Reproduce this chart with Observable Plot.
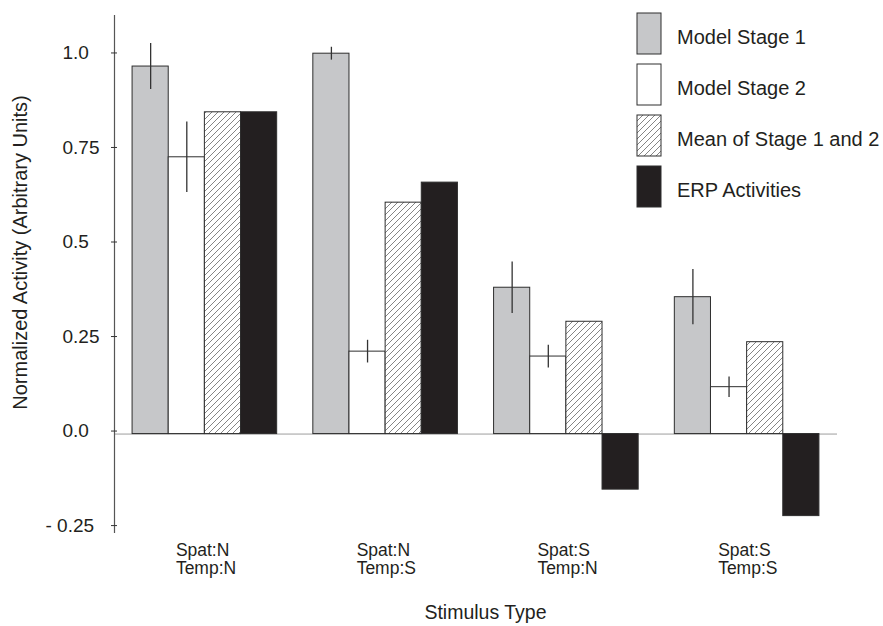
<!DOCTYPE html>
<html>
<head>
<meta charset="utf-8">
<script src="https://cdn.jsdelivr.net/npm/d3@7"></script>
<script src="https://cdn.jsdelivr.net/npm/@observablehq/plot@0.6"></script>
<style>
  html, body { margin: 0; padding: 0; background: #ffffff; }
  #chart svg { display: block; }
</style>
</head>
<body>
<div id="chart"></div>
<script>
// ---------- data ----------
const categories = ["Spat:N\nTemp:N", "Spat:N\nTemp:S", "Spat:S\nTemp:N", "Spat:S\nTemp:S"];
const seriesNames = ["Model Stage 1", "Model Stage 2", "Mean of Stage 1 and 2", "ERP Activities"];
const stage1    = [0.972, 1.006, 0.387, 0.362];
const stage1Err = [0.061, 0.017, 0.068, 0.073];
const stage2    = [0.732, 0.218, 0.205, 0.124];
const stage2Err = [0.093, 0.030, 0.030, 0.027];
const meanStage = [0.851, 0.612, 0.297, 0.243];
const erp       = [0.851, 0.665, -0.147, -0.217];
const yTicks = [1.0, 0.75, 0.5, 0.25, 0.0];
const yTickLabels = ["1.0", "0.75", "0.5", "0.25", "0.0"];
const yNegTicks = [-0.25];
const yNegTickLabels = ["- 0.25"];
const yTitle = "Normalized Activity (Arbitrary Units)";
const xTitle = "Stimulus Type";
const seriesFills = ["#c6c7c9", "#ffffff", "url(#hatch)", "#231f20"];

// ---------- table ----------
const valuesBySeries = [stage1, stage2, meanStage, erp];
const errorsBySeries = [stage1Err, stage2Err, null, null];
const SLOTS_PER_GROUP = 5; // 4 bars + 1 gap
const rows = [];
categories.forEach((cat, g) => {
  seriesNames.forEach((s, i) => {
    rows.push({
      category: cat,
      series: s,
      slot: g * SLOTS_PER_GROUP + i,
      value: valuesBySeries[i][g],
      err: errorsBySeries[i] ? errorsBySeries[i][g] : null
    });
  });
});
const errRows = rows.filter(r => r.err != null);
const groupCenters = categories.map((c, g) => g * SLOTS_PER_GROUP + 2);

const FONT = "'Liberation Sans', Arial, Helvetica, sans-serif";
const INK = "#231f20";

const chart = Plot.plot({
  width: 883,
  height: 626,
  marginLeft: 114,
  marginRight: 46,
  marginTop: 15,
  marginBottom: 93,
  x: {type: "linear", domain: [-0.5, 19.5], axis: null},
  y: {domain: [-0.263, 1.107], axis: null},
  color: {domain: seriesNames, range: seriesFills},
  style: {fontFamily: FONT, color: INK, background: "#ffffff"},
  marks: [
    Plot.ruleY([0], {stroke: "#9d9d9d", strokeWidth: 1}),
    Plot.rect(rows, {
      x1: "slot",
      x2: d => d.slot + 1,
      y1: 0,
      y2: "value",
      fill: "series",
      stroke: "#2e2e2e",
      strokeWidth: 1
    }),
    Plot.ruleX(errRows, {
      x: d => d.slot + 0.5,
      y1: d => d.value - d.err,
      y2: d => d.value + d.err,
      stroke: "#333333",
      strokeWidth: 1.3
    }),
    Plot.ruleX([-0.5], {stroke: "#555555", strokeWidth: 1.2}),
    Plot.axisY(yTicks, {
      anchor: "left",
      tickSize: -6,
      tickPadding: 55,
      dx: -3,
      dy: -3,
      textAnchor: "start",
      tickFormat: d => yTickLabels[yTicks.indexOf(d)],
      stroke: "#333333",
      label: null
    }),
    Plot.axisY(yNegTicks, {
      anchor: "left",
      tickSize: -6,
      tickPadding: 72,
      dx: -3,
      dy: -3,
      textAnchor: "start",
      tickFormat: d => yNegTickLabels[yNegTicks.indexOf(d)],
      stroke: "#333333",
      label: null
    }),
    Plot.axisX(groupCenters, {
      anchor: "bottom",
      tickSize: 0,
      tickPadding: 9.5,
      textAnchor: "start",
      dx: -29,
      lineHeight: 1.05,
      tickFormat: d => categories[groupCenters.indexOf(d)],
      label: null
    }),
    Plot.text([xTitle], {
      frameAnchor: "bottom",
      lineAnchor: "top",
      textAnchor: "middle",
      dx: 9.5,
      dy: 72,
      fontSize: 19.5
    }),
    Plot.text([yTitle], {
      frameAnchor: "left",
      rotate: -90,
      lineAnchor: "top",
      textAnchor: "middle",
      dx: -102,
      dy: -22,
      fontSize: 20
    })
  ]
});

const svg = d3.select(chart);

// font sizes of the axis tick labels
svg.selectAll("g[aria-label='y-axis tick label']").attr("font-size", 19).selectAll("text").attr("font-size", null);
svg.selectAll("g[aria-label='x-axis tick label']").attr("font-size", 17.5).selectAll("text").attr("font-size", null);

// hatch pattern for "Mean of Stage 1 and 2"
const defs = svg.insert("defs", ":first-child");
const pat = defs.append("pattern")
  .attr("id", "hatch")
  .attr("patternUnits", "userSpaceOnUse")
  .attr("width", 6)
  .attr("height", 6);
pat.append("rect").attr("width", 6).attr("height", 6).attr("fill", "#ffffff");
pat.append("path")
  .attr("d", "M-1,1 L1,-1 M0,6 L6,0 M5,7 L7,5")
  .attr("stroke", "#666666")
  .attr("stroke-width", 0.8)
  .attr("fill", "none");

// legend (upper right, inside the plot)
const colorScale = chart.scale("color");
const legend = svg.append("g").attr("transform", "translate(637,13)");
seriesNames.forEach((s, i) => {
  const item = legend.append("g").attr("transform", `translate(0,${i * 51})`);
  item.append("rect")
    .attr("width", 24)
    .attr("height", 41)
    .attr("fill", colorScale.apply(s))
    .attr("stroke", "#2e2e2e")
    .attr("stroke-width", 1);
  item.append("text")
    .attr("x", 40)
    .attr("y", 30.5)
    .attr("text-anchor", "start")
    .attr("fill", INK)
    .attr("font-family", FONT)
    .attr("font-size", 20)
    .text(s);
});

document.getElementById("chart").appendChild(chart);
</script>
</body>
</html>
